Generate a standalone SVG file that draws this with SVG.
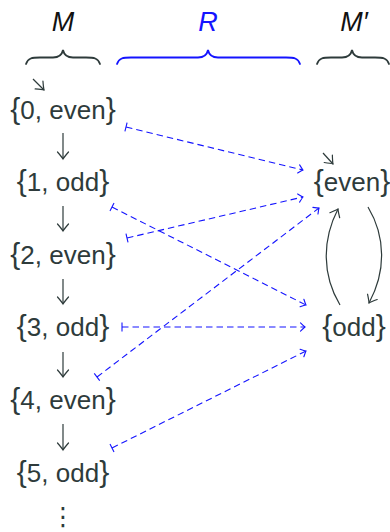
<svg xmlns="http://www.w3.org/2000/svg" width="390" height="532" viewBox="0 0 390 532">
<style>
.lbl{font-family:"Liberation Sans","Noto Sans",sans-serif;font-size:26px;fill:#2e3b3b;text-anchor:middle}
.br{font-size:30px}
.hdr{font-family:"Liberation Sans","Noto Sans",sans-serif;font-size:27px;font-style:italic;text-anchor:middle}
.brace{fill:none;stroke-width:1.8;stroke-linecap:round}
.dark{fill:none;stroke:#2e3b3b;stroke-width:1.2}
.rel{fill:none;stroke:#1414ff;stroke-width:1.1;stroke-dasharray:6.5 4}
</style>
<defs>
<marker id="hd" markerUnits="userSpaceOnUse" markerWidth="20" markerHeight="20" viewBox="-10 -10 20 20" refX="0" refY="0" orient="auto" overflow="visible">
<path d="M-7,-5.5 Q-2,-1.2 0,0 Q-2,1.2 -7,5.5" fill="none" stroke="#2e3b3b" stroke-width="1.2" stroke-linecap="round"/>
</marker>
<marker id="hb" markerUnits="userSpaceOnUse" markerWidth="20" markerHeight="20" viewBox="-10 -10 20 20" refX="0" refY="0" orient="auto" overflow="visible">
<path d="M-4.5,-4.2 Q-1.2,-0.9 0,0 Q-1.2,0.9 -4.5,4.2" fill="none" stroke="#1414ff" stroke-width="1.1" stroke-linecap="round"/>
</marker>
<marker id="tb" markerUnits="userSpaceOnUse" markerWidth="20" markerHeight="20" viewBox="-10 -10 20 20" refX="0" refY="0" orient="auto" overflow="visible">
<path d="M0,-4.5 L0,4.5" fill="none" stroke="#1414ff" stroke-width="1.1"/>
</marker>
</defs>

<g id="header-M">
<text class="hdr" x="63" y="31" fill="#111">M</text>
<path class="brace" stroke="#2e3b3b" d="M26,64 C28,58 32,57.5 40,57.5 L53,57.5 C59,57.5 62,55 63,50 C64,55 67,57.5 73,57.5 L86,57.5 C94,57.5 98,58 100,64"/>
</g>
<g id="header-R">
<text class="hdr" x="208" y="31" fill="#1414ff">R</text>
<path class="brace" stroke="#1414ff" d="M117,64 C119,58 123,57.5 131,57.5 L198,57.5 C204,57.5 207,55 208,50 C209,55 212,57.5 218,57.5 L286,57.5 C294,57.5 298,58 300,64"/>
</g>
<g id="header-Mprime">
<text class="hdr" x="354" y="31" fill="#111">M′</text>
<path class="brace" stroke="#2e3b3b" d="M317,64 C319,58 323,57.5 331,57.5 L342,57.5 C348,57.5 351,55 352,50 C353,55 356,57.5 362,57.5 L375,57.5 C383,57.5 387,58 389,64"/>
</g>

<g id="n0"><text class="lbl" x="63" y="119"><tspan class="br">{</tspan>0, even<tspan class="br">}</tspan></text></g>
<g id="n1"><text class="lbl" x="63" y="191"><tspan class="br">{</tspan>1, odd<tspan class="br">}</tspan></text></g>
<g id="n2"><text class="lbl" x="63" y="264"><tspan class="br">{</tspan>2, even<tspan class="br">}</tspan></text></g>
<g id="n3"><text class="lbl" x="63" y="336"><tspan class="br">{</tspan>3, odd<tspan class="br">}</tspan></text></g>
<g id="n4"><text class="lbl" x="63" y="409"><tspan class="br">{</tspan>4, even<tspan class="br">}</tspan></text></g>
<g id="n5"><text class="lbl" x="63" y="482"><tspan class="br">{</tspan>5, odd<tspan class="br">}</tspan></text></g>
<g id="dots"><text class="lbl" x="63" y="525" style="font-family:'DejaVu Sans',sans-serif;font-size:25px">⋮</text></g>
<g id="even"><text class="lbl" x="352" y="191"><tspan class="br">{</tspan>even<tspan class="br">}</tspan></text></g>
<g id="odd"><text class="lbl" x="354" y="336"><tspan class="br">{</tspan>odd<tspan class="br">}</tspan></text></g>

<g id="connectors">
<path class="dark" marker-end="url(#hd)" d="M33,79 L44,90"/>
<path class="dark" marker-end="url(#hd)" d="M323,153 L333,164"/>
<path class="dark" marker-end="url(#hd)" d="M63,133 L63,159"/>
<path class="dark" marker-end="url(#hd)" d="M63,206 L63,231"/>
<path class="dark" marker-end="url(#hd)" d="M63,279 L63,304"/>
<path class="dark" marker-end="url(#hd)" d="M63,352 L63,377"/>
<path class="dark" marker-end="url(#hd)" d="M63,424 L63,450"/>
<path class="dark" marker-end="url(#hd)" d="M340,305 C322,275 322,240 338,209"/>
<path class="dark" marker-end="url(#hd)" d="M368,207 C386,237 386,272 369,303"/>
<path class="rel" marker-start="url(#tb)" marker-end="url(#hb)" d="M126,127 L303,170"/>
<path class="rel" marker-start="url(#tb)" marker-end="url(#hb)" d="M112,207 L306,305"/>
<path class="rel" marker-start="url(#tb)" marker-end="url(#hb)" d="M127,238 L303,197"/>
<path class="rel" marker-start="url(#tb)" marker-end="url(#hb)" d="M122,327 L305,327"/>
<path class="rel" marker-start="url(#tb)" marker-end="url(#hb)" d="M97,377 L319,208"/>
<path class="rel" marker-start="url(#tb)" marker-end="url(#hb)" d="M112,448 L306,351"/>
</g>
</svg>
